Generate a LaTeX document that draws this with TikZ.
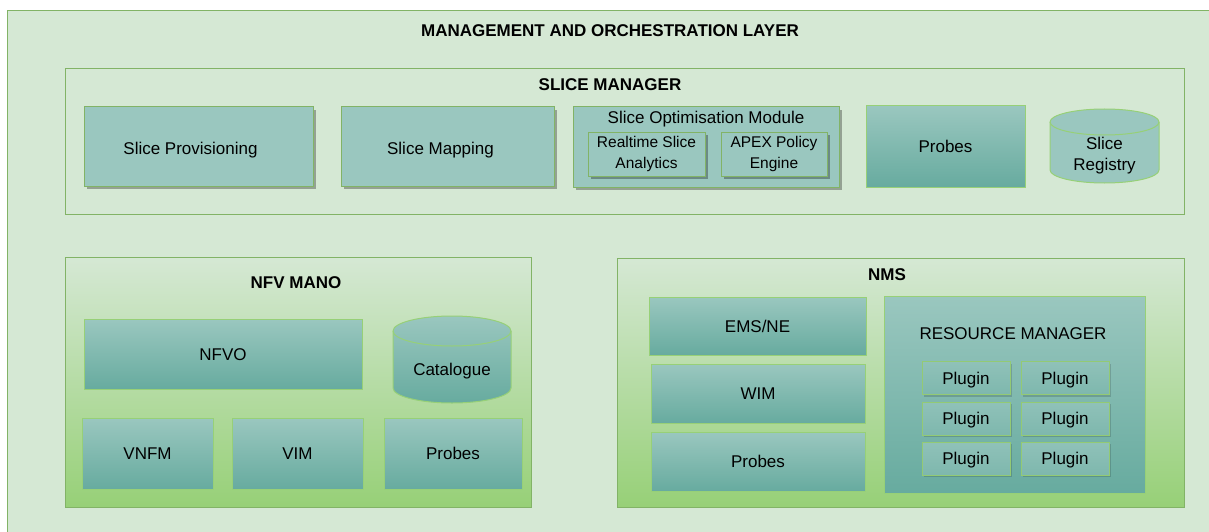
\documentclass[tikz,border=0pt]{standalone}
\usepackage{fontspec}
\setmainfont{Liberation Sans}
\usetikzlibrary{shadows}
\definecolor{bgG}{HTML}{D5E8D4}
\definecolor{strG}{HTML}{82B366}
\definecolor{lightG}{HTML}{97D077}
\definecolor{tealA}{HTML}{9AC7BF}
\definecolor{tealB}{HTML}{67AB9F}
\begin{document}
\begin{tikzpicture}[x=1pt,y=-1pt,
  every node/.style={font=\fontsize{17}{21}\selectfont, text=black, align=center, inner sep=0pt},
  one/.style={text height=12.5pt, text depth=0pt},
  ttl/.style={one, font=\bfseries\fontsize{17}{21}\selectfont},
  cont/.style={draw=strG, line width=1pt, fill=bgG, rectangle},
  gcont/.style={draw=strG, line width=1pt, rectangle, top color=bgG, bottom color=lightG},
  sbox/.style={draw=strG, line width=1pt, fill=tealA, rectangle,
    drop shadow={shadow xshift=3pt, shadow yshift=-3pt, fill=black, opacity=0.3}},
  gbox/.style={one, draw=lightG, line width=1pt, rectangle, top color=tealA, bottom color=tealB},
  plug/.style={one, draw=lightG!80!strG, line width=1pt, rectangle, top color=tealA!80!tealB, bottom color=tealA!45!tealB,
    minimum width=88pt, minimum height=33pt,
    drop shadow={shadow xshift=2pt, shadow yshift=-2pt, fill=black, opacity=0.15}},
  cyl/.style={draw=lightG, line width=1pt},
  sz/.style 2 args={minimum width=#1pt, minimum height=#2pt}
]
\fill[white] (0,0) rectangle (1209,532);
\clip (0,0) rectangle (1209,532);

% outer layer
\node[cont, anchor=north west, sz={1230}{540}] (layer) at (7,10) {};
\node[ttl] (layert) at (610,30) {MANAGEMENT AND ORCHESTRATION LAYER};

% slice manager
\node[cont, sz={1119}{145}] (sm) at (624.5,141.5) {};
\node[ttl] (smt) at (610,84) {SLICE MANAGER};
\node[sbox, sz={229}{79}, label={[one, xshift=-8pt, yshift=-1.5pt]center:Slice Provisioning}] (sp) at (198.5,146.5) {};
\node[sbox, sz={213}{79}, label={[one, xshift=-7pt, yshift=-1.5pt]center:Slice Mapping}] (smap) at (447.5,146.5) {};
\node[sbox, sz={266}{80}] (som) at (706,147) {};
\node[one] (somt) at (706,117) {Slice Optimisation Module};
\node[sbox, sz={117}{44}, font=\fontsize{15.5}{21}\selectfont] (rsa) at (646.5,154) {Realtime Slice\\Analytics};
\node[sbox, sz={106}{44}, font=\fontsize{15.5}{21}\selectfont] (apex) at (774,154) {APEX Policy\\Engine};
\node[gbox, sz={159}{81}] (prb1) at (945.5,146.5) {Probes};

% Slice Registry cylinder (1050..1159 x 109..183)
\path[cyl, fill=tealA] (1050,122) -- (1050,170)
  arc[start angle=180, end angle=360, x radius=54.5pt, y radius=13pt]
  -- (1159,122)
  arc[start angle=0, end angle=180, x radius=54.5pt, y radius=13pt] -- cycle;
\draw[cyl] (1050,122) arc[start angle=180, end angle=360, x radius=54.5pt, y radius=13pt];
\node[sz={109}{74}] (reg) at (1104.5,156) {Slice\\Registry};

% NFV MANO
\node[gcont, sz={466}{250}] (mano) at (298,382) {};
\node[ttl] (manot) at (296,282) {NFV MANO};
\node[gbox, sz={278}{70}] (nfvo) at (223,354) {NFVO};
% Catalogue cylinder (393..511 x 316..403), darker at top
\path[cyl, top color=tealA, bottom color=tealB] (393,331) -- (393,388)
  arc[start angle=180, end angle=360, x radius=59pt, y radius=15pt]
  -- (511,331)
  arc[start angle=0, end angle=180, x radius=59pt, y radius=15pt] -- cycle;
\draw[cyl] (393,331) arc[start angle=180, end angle=360, x radius=59pt, y radius=15pt];
\node[one] (cat) at (452,369) {Catalogue};
\node[gbox, sz={131}{71}] (vnfm) at (147.5,453.5) {VNFM};
\node[gbox, sz={131}{71}] (vim) at (297.5,453.5) {VIM};
\node[gbox, sz={138}{71}] (prb2) at (453,453.5) {Probes};

% NMS
\node[gcont, sz={567}{249}] (nms) at (900.5,382.5) {};
\node[ttl] (nmst) at (887,274) {NMS};
\node[gbox, sz={217}{58}] (ems) at (757.5,326) {EMS/NE};
\node[gbox, sz={214}{59}] (wim) at (758,393.5) {WIM};
\node[gbox, sz={214}{59}] (prb3) at (758,461.5) {Probes};
\node[gbox, sz={261}{197}] (rm) at (1014.5,394.5) {};
\node[one] (rmt) at (1013,333) {RESOURCE MANAGER};
\node[plug] (p11) at (966,378) {Plugin};
\node[plug] (p12) at (1065,378) {Plugin};
\node[plug] (p21) at (966,418.5) {Plugin};
\node[plug] (p22) at (1065,418.5) {Plugin};
\node[plug] (p31) at (966,458.5) {Plugin};
\node[plug] (p32) at (1065,458.5) {Plugin};
\end{tikzpicture}
\end{document}
